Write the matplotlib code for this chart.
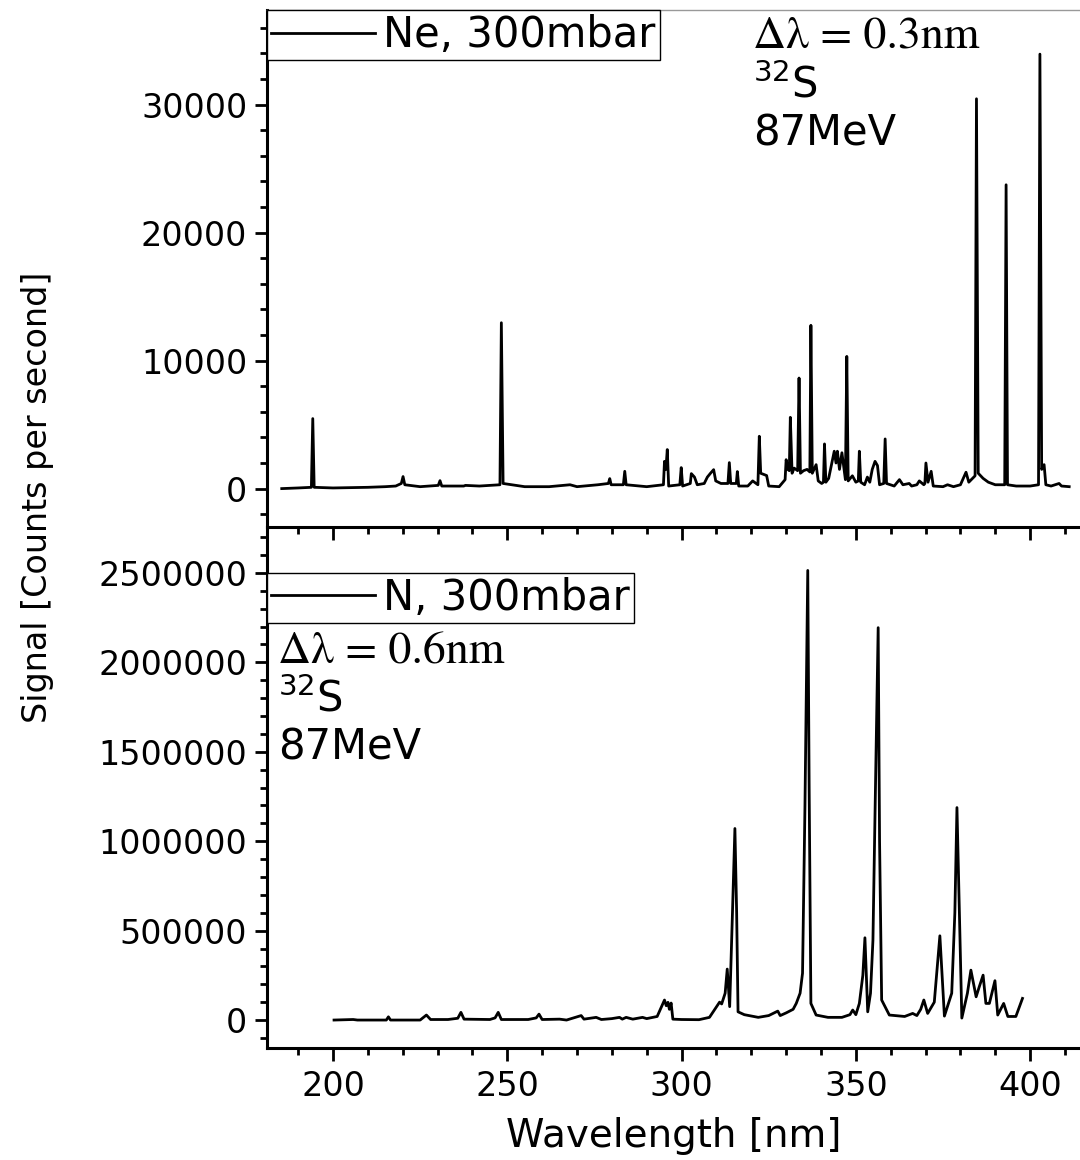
import matplotlib
matplotlib.use('Agg')
import matplotlib.pyplot as plt
from matplotlib.ticker import MultipleLocator, ScalarFormatter

# Ne, 300 mbar spectrum (wavelength in nm, signal in counts/s)
ne_wl = [185.3, 190, 193.8, 194.2, 194.6, 200, 210, 215, 218, 219.6, 220.1, 220.6,
         225, 230.2, 230.7, 231.2, 237.5, 238, 242, 247.9, 248.3, 248.8, 255, 262,
         268, 270, 276, 279.0, 279.4, 279.8, 283.3, 283.7, 284.1, 290, 294.8, 295.1,
         295.5, 295.9, 296.3, 299.5, 299.9, 300.3, 302.5, 302.8, 303.7, 304.5, 306.5,
         307.4, 308.3, 309.2, 309.8, 311.3, 313.3, 313.7, 314.1, 315.7, 316.0, 316.4, 319,
         320.4, 321.9, 322.3, 322.7, 324.4, 325, 328, 329.7, 330.0, 330.5, 330.9, 331.2,
         331.7, 332.3, 333.3, 333.7, 334.1, 335, 336.0, 336.8, 337.1, 337.5, 338.6, 339.2,
         340.2, 340.7, 341.0, 341.4, 342.2, 343.8, 344.3, 344.7, 345.3, 346.0, 347.0,
         347.4, 347.8, 349.0, 350.0, 350.7, 351.0, 351.4, 352.5, 353.3, 354.0, 354.7,
         355.5, 356.2, 356.8, 358.0, 358.4, 358.8, 361, 362.5, 363.5, 365.3, 366,
         367.5, 368.2, 369.5, 369.8, 370.1, 370.7, 371.6, 372.2, 375, 376.3, 378, 380,
         381.6, 382.4, 384.2, 384.6, 385.1, 386.5, 388, 390, 392.7, 393.1, 393.5, 396,
         400, 402.4, 402.8, 403.3, 404.0, 404.5, 406, 408.3, 409, 411.2]
ne_sig = [0, 50, 100, 5470, 100, 50, 100, 150, 200, 400, 940, 300,
          150, 250, 620, 200, 200, 250, 200, 300, 12960, 400, 150, 150,
          300, 150, 300, 400, 780, 300, 300, 1350, 300, 150, 300, 2130,
          1500, 3050, 200, 300, 1640, 200, 400, 1170, 900, 300, 400,
          900, 1200, 1480, 600, 400, 400, 2030, 400, 400, 1330, 200, 200,
          600, 300, 4090, 1200, 1020, 200, 150, 700, 2260, 1500, 1400, 5570,
          1200, 1600, 1400, 8640, 1200, 1400, 1500, 1300, 12760, 1200, 1870, 600,
          400, 500, 3490, 500, 800, 2920, 2000, 2920, 1500, 2800, 700,
          10330, 600, 1000, 500, 600, 2920, 500, 300, 900, 500, 1500,
          2130, 1800, 300, 400, 3880, 400, 200, 700, 300, 400, 200,
          300, 600, 300, 400, 2000, 500, 1350, 200, 150, 300, 150, 300,
          1280, 500, 1000, 30460, 1200, 800, 500, 300, 300, 23740, 300, 200,
          200, 300, 33950, 1500, 1870, 300, 200, 400, 200, 150]

# N, 300 mbar spectrum
n_wl = [200.3, 205.8, 207, 215.3, 215.9, 216.5, 225, 226.8, 228, 233, 235.8, 236.7,
        237.6, 245, 246.5, 247.4, 248.3, 256, 258.3, 259.1, 260, 265, 267, 271.2,
        272, 275.5, 277, 280, 282.2, 283, 284.1, 286, 288.8, 290, 293, 295.1, 295.6,
        296.1, 296.5, 297.0, 297.5, 300, 305, 308, 310.9, 311.5, 312.5, 313.1, 313.8,
        314.6, 315.3, 315.8, 316.2, 318, 322, 325, 327.6, 328.3, 330, 332.0, 332.9,
        334.0, 334.7, 335.4, 336.2, 336.6, 337.1, 338.6, 342, 346, 348.3, 349.1,
        350.0, 351.0, 352.0, 352.6, 353.4, 354.2, 354.9, 355.5, 356.4, 356.8, 357.4,
        359.6, 364, 366.3, 367.5, 368.6, 369.5, 370.6, 372.5, 374.1, 375.4, 377.5,
        378.4, 379.0, 379.7, 380.4, 382, 383, 384.5, 385.4, 386.5, 387.3, 388.3,
        389.9, 390.7, 392.4, 393.6, 395.9, 397.8]
n_sig = [0, 3000, 0, 0, 18000, 0, 0, 28000, 3000, 3000, 10000, 43000,
         5000, 3000, 12000, 43000, 3000, 3000, 12000, 33000, 3000, 5000, 0, 25000,
         5000, 15000, 3000, 8000, 15000, 5000, 15000, 5000, 15000, 8000, 20000, 112000, 80000,
         99000, 60000, 95000, 5000, 3000, 2000, 15000, 100000, 90000, 150000, 285000, 75000,
         600000, 1071000, 600000, 46000, 30000, 15000, 25000, 50000, 25000, 40000, 60000, 93000,
         150000, 262000, 1200000, 2514000, 1300000, 93000, 28000, 15000, 15000, 30000, 56000,
         30000, 93000, 250000, 460000, 46000, 150000, 447000, 1156000, 2194000, 1000000, 112000,
         28000, 20000, 37000, 25000, 60000, 112000, 37000, 100000, 471000, 22000, 150000,
         600000, 1188000, 600000, 11000, 150000, 279000, 130000, 186000, 251000, 93000, 93000,
         220000, 28000, 93000, 20000, 20000, 121000]

ne_yticks = [0, 10000, 20000, 30000]
n_yticks = [0, 500000, 1000000, 1500000, 2000000, 2500000]
x_ticks = [200, 250, 300, 350, 400]

TICK_FS = 24


def style_axis(ax):
    for side in ['left', 'bottom']:
        ax.spines[side].set_linewidth(2.2)
    ax.spines['right'].set_visible(False)
    ax.xaxis.set_minor_locator(MultipleLocator(10))
    ax.tick_params(which='major', direction='out', length=9, width=2,
                   labelsize=TICK_FS, pad=5)
    ax.tick_params(which='minor', direction='out', length=5, width=2)
    ax.tick_params(top=False, right=False)
    fmt = ScalarFormatter(useOffset=False)
    fmt.set_scientific(False)
    ax.yaxis.set_major_formatter(fmt)


fig = plt.figure(figsize=(10.8, 11.6), dpi=100)
ax1 = fig.add_axes([0.247, 0.5457, 0.753, 0.4457])
ax2 = fig.add_axes([0.247, 0.0966, 0.753, 0.4491])

# top panel: Ne
ax1.plot(ne_wl, ne_sig, color='black', lw=2.0, label='Ne, 300mbar')
ax1.set_xlim(181, 414.3)
ax1.set_ylim(-3000, 37400)
ax1.set_yticks(ne_yticks)
ax1.yaxis.set_minor_locator(MultipleLocator(2000))
ax1.set_xticks(x_ticks)
style_axis(ax1)
ax1.tick_params(labelbottom=False)
ax1.spines['top'].set_color('#999999')
ax1.spines['top'].set_linewidth(1)
ax1.set_zorder(3)
ax1.patch.set_alpha(0)
leg1 = ax1.legend(loc='upper left', bbox_to_anchor=(0, 1), borderaxespad=0,
                  fontsize=30, handlelength=2.5, handletextpad=0.2,
                  borderpad=0.1, fancybox=False, edgecolor='black',
                  framealpha=1)
leg1.get_frame().set_linewidth(1)
ax1.text(753 / 1080, 1 - 47 / 1160, 'Δλ = 0.3nm', family='STIXGeneral',
         transform=fig.transFigure, fontsize=33, ha='left', va='baseline')
ax1.text(753 / 1080, 1 - 97 / 1160, r'$^{32}$S', transform=fig.transFigure,
         fontsize=30, ha='left', va='baseline')
ax1.text(753 / 1080, 1 - 146 / 1160, '87MeV', transform=fig.transFigure,
         fontsize=30, ha='left', va='baseline')

# bottom panel: N
ax2.plot(n_wl, n_sig, color='black', lw=2.0, label='N, 300mbar')
ax2.set_xlim(181, 414.3)
ax2.set_ylim(-156000, 2757000)
ax2.set_yticks(n_yticks)
ax2.yaxis.set_minor_locator(MultipleLocator(100000))
ax2.set_xticks(x_ticks)
style_axis(ax2)
ax2.tick_params(axis='x', pad=7)
ax2.spines['top'].set_visible(False)
ax2.set_xlabel('Wavelength [nm]', fontsize=28, labelpad=10)
leg2 = ax2.legend(loc='upper left', bbox_to_anchor=(0, 0.912), borderaxespad=0,
                  fontsize=30, handlelength=2.5, handletextpad=0.2,
                  borderpad=0.1, fancybox=False, edgecolor='black',
                  framealpha=1)
leg2.get_frame().set_linewidth(1)
ax2.text(278 / 1080, 1 - 663 / 1160, 'Δλ = 0.6nm', family='STIXGeneral',
         transform=fig.transFigure, fontsize=33, ha='left', va='baseline')
ax2.text(278 / 1080, 1 - 712 / 1160, r'$^{32}$S', transform=fig.transFigure,
         fontsize=30, ha='left', va='baseline')
ax2.text(278 / 1080, 1 - 760 / 1160, '87MeV', transform=fig.transFigure,
         fontsize=30, ha='left', va='baseline')

fig.text(38 / 1080, 1 - 497 / 1160, 'Signal [Counts per second]', rotation=90,
         fontsize=24, ha='center', va='center')

fig.savefig('out.png', dpi=100)
